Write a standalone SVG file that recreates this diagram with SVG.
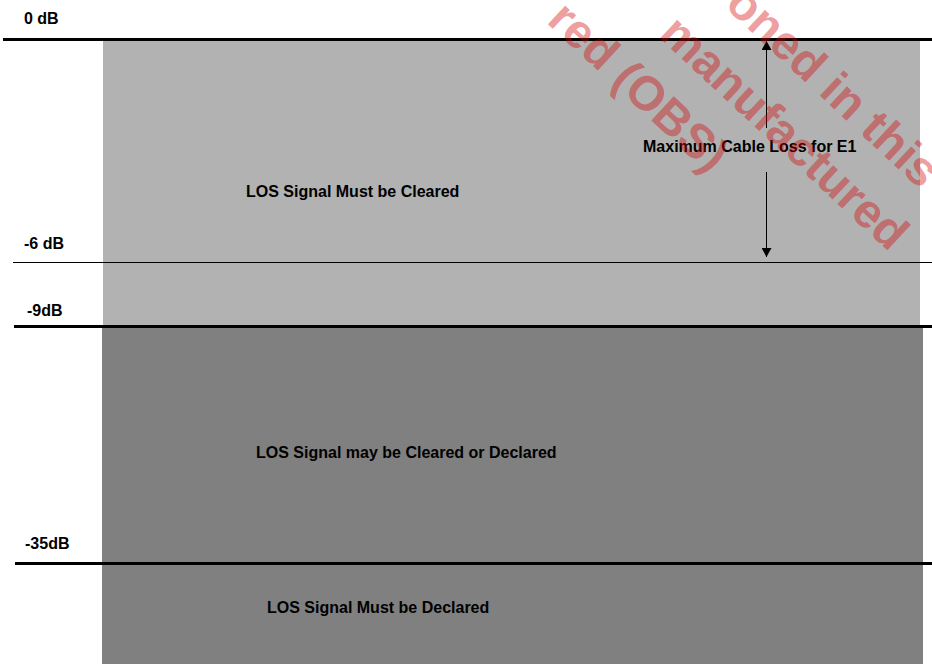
<svg xmlns="http://www.w3.org/2000/svg" width="932" height="664" viewBox="0 0 932 664">
<style>
.lbl{font-family:"Liberation Sans",Arial,sans-serif;font-weight:bold;font-size:16px;fill:#000}
.thick{stroke:#000;stroke-width:3;fill:none}
.thin{stroke:#000;stroke-width:1;fill:none}
.wm{font-family:"Liberation Sans",Arial,sans-serif;font-weight:bold;font-size:48px;fill:#d40000;fill-opacity:0.4}
</style>
<defs>
<marker id="ah" markerWidth="11" markerHeight="10" refX="10" refY="5.5" orient="auto" markerUnits="userSpaceOnUse" viewBox="0 0 10 11">
<path d="M0,0 L10,5.5 L0,11 Z" fill="#000"/>
</marker>
</defs>
<rect width="932" height="664" fill="#fff"/>
<g id="zone-cleared">
<rect x="103" y="39" width="817" height="287" fill="#b2b2b2"/>
<text class="lbl" x="246" y="197">LOS Signal Must be Cleared</text>
</g>
<g id="zone-may">
<rect x="102" y="326" width="821" height="238" fill="#808080"/>
<text class="lbl" x="256" y="458">LOS Signal may be Cleared or Declared</text>
</g>
<g id="zone-declared">
<rect x="102" y="564" width="821" height="100" fill="#808080"/>
<text class="lbl" x="267" y="613">LOS Signal Must be Declared</text>
</g>
<g id="levels">
<line class="thick" x1="3" y1="39.5" x2="932" y2="39.5"/>
<line class="thin" x1="13" y1="262.5" x2="932" y2="262.5"/>
<line class="thick" x1="14" y1="326.5" x2="932" y2="326.5"/>
<line class="thick" x1="15" y1="563.5" x2="932" y2="563.5"/>
<text class="lbl" x="24" y="24">0 dB</text>
<text class="lbl" x="24" y="249">-6 dB</text>
<text class="lbl" x="27" y="316">-9dB</text>
<text class="lbl" x="25" y="549">-35dB</text>
</g>
<g id="connectors">
<line class="thin" x1="766.5" y1="128" x2="766.5" y2="41" marker-end="url(#ah)"/>
<line class="thin" x1="766.5" y1="172" x2="766.5" y2="257" marker-end="url(#ah)"/>
</g>
<g id="max-loss">
<text class="lbl" x="643" y="152">Maximum Cable Loss for E1</text>
</g>
<g id="watermark" transform="translate(709.4,174.7) rotate(43)">
<text class="wm" x="0" y="0" text-anchor="end">red (OBS)</text>
<text class="wm" x="185" y="-66" text-anchor="end">manufactured</text>
<text class="wm" x="165" y="-133" text-anchor="end">oned in this</text>
</g>
</svg>
